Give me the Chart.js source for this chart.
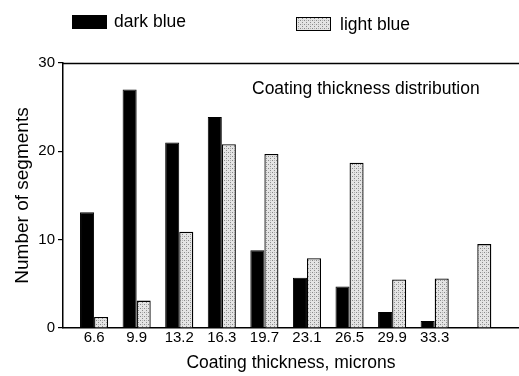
<!DOCTYPE html>
<html>
<head>
<meta charset="utf-8">
<script src="https://cdn.jsdelivr.net/npm/chart.js@4.4.1/dist/chart.umd.min.js"></script>
<style>
  html, body { margin: 0; padding: 0; background: #fff; }
  #wrap { width: 519px; height: 376px; }
</style>
</head>
<body>
<div id="wrap"><canvas id="chart" width="519" height="376"></canvas></div>
<script>
// ---- data ----
const categories = ['6.6', '9.9', '13.2', '16.3', '19.7', '23.1', '26.5', '29.9', '33.3', ''];
const darkBlue = [13.1, 27, 21, 23.9, 8.8, 5.7, 4.7, 1.8, 0.8, 0];
const lightBlue = [1.25, 3.1, 10.9, 20.8, 19.7, 7.9, 18.7, 5.5, 5.6, 9.5];
const yTicks = [0, 10, 20, 30];

const FONT = "'Liberation Sans', Arial, sans-serif";

// stippled grey fill for the light series
function makeStipple() {
  const c = document.createElement('canvas');
  c.width = 4; c.height = 4;
  const g = c.getContext('2d');
  g.fillStyle = '#e4e4e4';
  g.fillRect(0, 0, 4, 4);
  g.fillStyle = '#8a8a8a';
  g.fillRect(0, 0, 1, 1);
  g.fillRect(2, 2, 1, 1);
  g.fillStyle = '#b4b4b4';
  g.fillRect(2, 0, 1, 1);
  return g.createPattern(c, 'repeat');
}
const stipple = makeStipple();

// bars sit on a numeric index axis so the left gap can be wider than the right one
function points(values) {
  return values.map(function(v, i) { return { x: i, y: v }; });
}

// legend, inner title and top frame line drawn by hand
const decorations = {
  id: 'decorations',
  afterDraw(chart) {
    const ctx = chart.ctx;
    const area = chart.chartArea;
    ctx.save();

    ctx.strokeStyle = '#000';
    ctx.lineWidth = 1.5;
    ctx.beginPath();
    ctx.moveTo(area.left, area.top + 0.5);
    ctx.lineTo(area.right, area.top + 0.5);
    ctx.stroke();

    ctx.fillStyle = '#000';
    ctx.font = '17.5px ' + FONT;
    ctx.textBaseline = 'middle';
    ctx.textAlign = 'left';
    ctx.fillText('Coating thickness distribution', 252, 89);

    // legend
    ctx.fillRect(72, 15, 35, 14);
    ctx.fillText('dark blue', 114, 22.5);

    ctx.fillStyle = stipple;
    ctx.fillRect(296, 17, 35, 14);
    ctx.lineWidth = 1;
    ctx.strokeRect(296.5, 17.5, 34, 13);
    ctx.fillStyle = '#000';
    ctx.fillText('light blue', 340, 25);

    ctx.restore();
  }
};

new Chart(document.getElementById('chart'), {
  type: 'bar',
  data: {
    datasets: [
      {
        label: 'dark blue',
        data: points(darkBlue),
        backgroundColor: '#000',
        borderColor: '#000',
        borderWidth: 1,
        categoryPercentage: 0.66,
        barPercentage: 1.0
      },
      {
        label: 'light blue',
        data: points(lightBlue),
        backgroundColor: stipple,
        borderColor: '#000',
        borderWidth: 1.3,
        categoryPercentage: 0.66,
        barPercentage: 1.0
      }
    ]
  },
  options: {
    responsive: false,
    animation: false,
    layout: { padding: { top: 63, right: 0, left: 0, bottom: 0 } },
    plugins: {
      legend: { display: false },
      tooltip: { enabled: false }
    },
    scales: {
      x: {
        type: 'linear',
        min: -0.73,
        max: 9.98,
        offset: false,
        afterBuildTicks: function(scale) {
          scale.ticks = categories.map(function(c, i) { return { value: i }; });
        },
        grid: { display: false, drawTicks: false },
        border: { display: true, color: '#000', width: 1.5 },
        ticks: {
          color: '#000',
          font: { family: FONT, size: 15 },
          padding: 1,
          maxRotation: 0,
          autoSkip: false,
          callback: function(value) { return categories[value]; }
        },
        title: {
          display: true,
          text: 'Coating thickness, microns',
          color: '#000',
          font: { family: FONT, size: 17.5 },
          padding: { top: 0, bottom: 2 }
        },
        afterFit: function(scale) { scale.height = 48; }
      },
      y: {
        min: 0,
        max: 30,
        afterBuildTicks: function(scale) {
          scale.ticks = yTicks.map(function(v) { return { value: v }; });
        },
        grid: {
          drawOnChartArea: false,
          drawTicks: true,
          tickLength: 5,
          color: '#000',
          lineWidth: 1.2
        },
        border: { display: true, color: '#000', width: 1.5 },
        ticks: {
          color: '#000',
          font: { family: FONT, size: 15 },
          padding: 3
        },
        title: {
          display: true,
          text: 'Number of segments',
          color: '#000',
          font: { family: FONT, size: 19 },
          padding: { top: 11, bottom: 0 }
        },
        afterFit: function(scale) { scale.width = 63; }
      }
    }
  },
  plugins: [decorations]
});
</script>
</body>
</html>
